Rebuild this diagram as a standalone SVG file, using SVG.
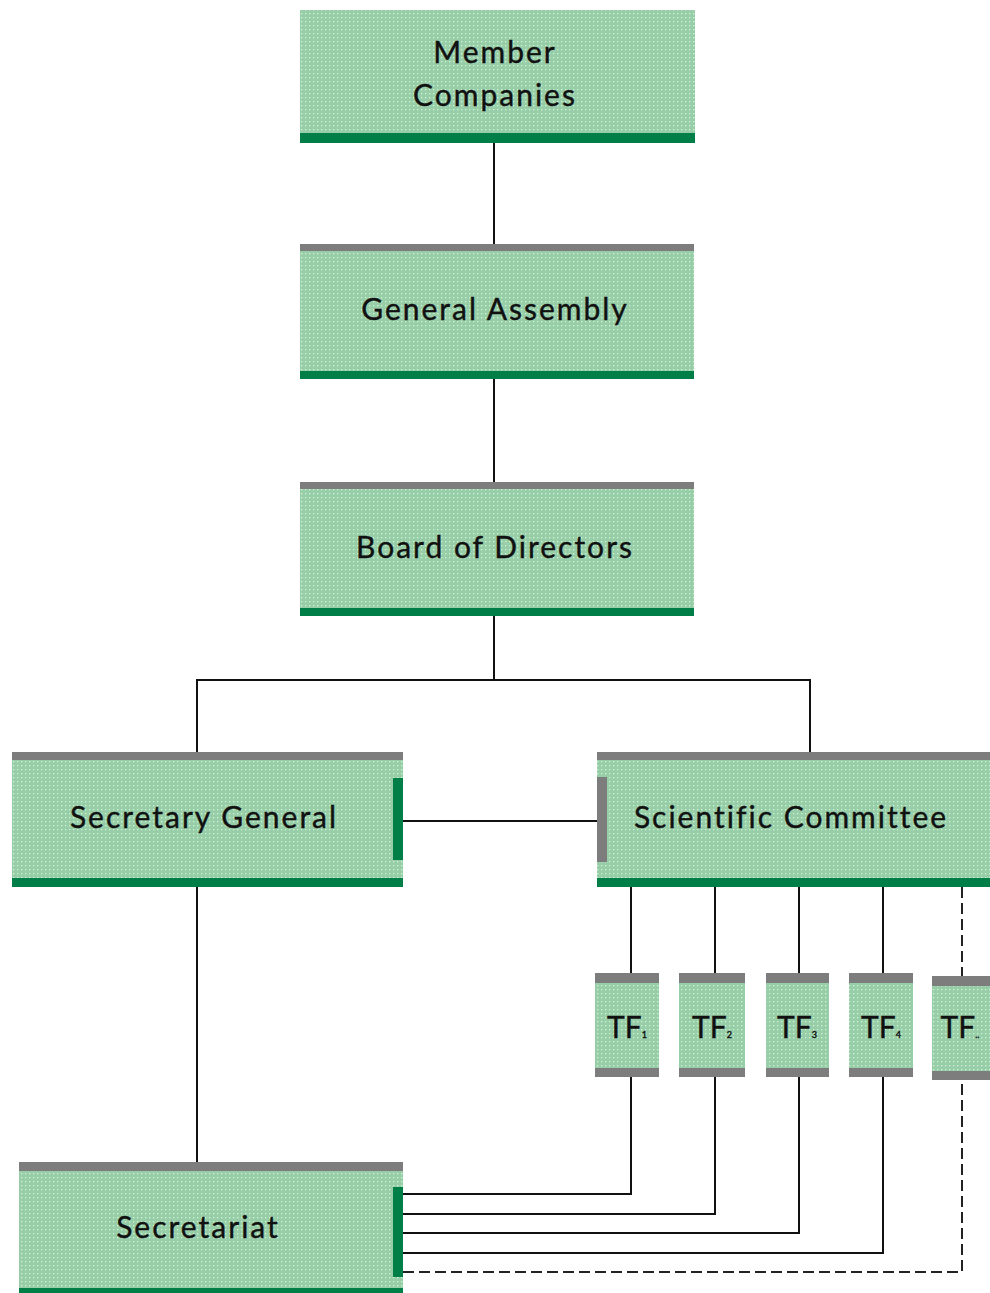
<svg xmlns="http://www.w3.org/2000/svg" width="990" height="1293" viewBox="0 0 990 1293">
<defs>
<pattern id="dots" width="4" height="4" patternUnits="userSpaceOnUse">
<rect width="4" height="4" fill="#98cdaa"/>
<rect x="1" y="1" width="1.3" height="1.3" fill="#cdf7c9"/>
</pattern>
</defs>
<style>
.box{fill:url(#dots)}
.gray{fill:#7d7d7d}
.dg{fill:#007e48}
.lbl{font-family:Lato,"Open Sans","Liberation Sans",sans-serif;font-size:30px;fill:#111;text-anchor:middle;letter-spacing:2px;stroke:#111;stroke-width:0.4px}
.tf{letter-spacing:0}
.sub{font-size:9px}
.ln{stroke:#111;stroke-width:2;fill:none}
.dash{stroke:#222;stroke-width:2;fill:none;stroke-dasharray:11 5}
</style>
<rect width="990" height="1293" fill="#fff"/>
<g id="connectors">
<line class="ln" x1="494" y1="143" x2="494" y2="244"/>
<line class="ln" x1="494" y1="378" x2="494" y2="482"/>
<polyline class="ln" points="494,616 494,680"/>
<polyline class="ln" points="197,752 197,680 810,680 810,752"/>
<line class="ln" x1="403" y1="821" x2="597" y2="821"/>
<line class="ln" x1="197" y1="887" x2="197" y2="1162"/>
<line class="ln" x1="631" y1="887" x2="631" y2="973"/>
<line class="ln" x1="715" y1="887" x2="715" y2="973"/>
<line class="ln" x1="799" y1="887" x2="799" y2="973"/>
<line class="ln" x1="883" y1="887" x2="883" y2="973"/>
<line class="dash" x1="962" y1="887" x2="962" y2="976"/>
<polyline class="ln" points="403,1194 631,1194 631,1077"/>
<polyline class="ln" points="403,1214 715,1214 715,1077"/>
<polyline class="ln" points="403,1233 799,1233 799,1077"/>
<polyline class="ln" points="403,1253 883,1253 883,1077"/>
<polyline class="dash" points="403,1272 962,1272 962,1080"/>
</g>
<g id="member-companies">
<rect class="box" x="300" y="10" width="395" height="133"/>
<rect class="dg" x="300" y="133" width="395" height="10"/>
<text class="lbl" x="495" y="63">Member</text>
<text class="lbl" x="495" y="106">Companies</text>
</g>
<g id="general-assembly">
<rect class="box" x="300" y="244" width="394" height="134"/>
<rect class="gray" x="300" y="244" width="394" height="7"/>
<rect class="dg" x="300" y="371" width="394" height="8"/>
<text class="lbl" x="495" y="320">General Assembly</text>
</g>
<g id="board-of-directors">
<rect class="box" x="300" y="482" width="394" height="134"/>
<rect class="gray" x="300" y="482" width="394" height="7"/>
<rect class="dg" x="300" y="608" width="394" height="8"/>
<text class="lbl" x="495" y="558">Board of Directors</text>
</g>
<g id="secretary-general">
<rect class="box" x="12" y="752" width="391" height="135"/>
<rect class="gray" x="12" y="752" width="391" height="8"/>
<rect class="dg" x="12" y="878" width="391" height="9"/>
<rect class="dg" x="393" y="778" width="10" height="82"/>
<text class="lbl" x="204" y="828">Secretary General</text>
</g>
<g id="scientific-committee">
<rect class="box" x="597" y="752" width="393" height="135"/>
<rect class="gray" x="597" y="752" width="393" height="8"/>
<rect class="dg" x="597" y="878" width="393" height="9"/>
<rect class="gray" x="597" y="777" width="10" height="85"/>
<text class="lbl" x="791" y="828">Scientific Committee</text>
</g>
<g id="tf1">
<rect class="box" x="595" y="973" width="64" height="104"/>
<rect class="gray" x="595" y="973" width="64" height="10"/>
<rect class="gray" x="595" y="1068" width="64" height="9"/>
<text class="lbl tf" x="627" y="1038">TF<tspan class="sub">1</tspan></text>
</g>
<g id="tf2">
<rect class="box" x="679" y="973" width="66" height="104"/>
<rect class="gray" x="679" y="973" width="66" height="10"/>
<rect class="gray" x="679" y="1068" width="66" height="9"/>
<text class="lbl tf" x="712" y="1038">TF<tspan class="sub">2</tspan></text>
</g>
<g id="tf3">
<rect class="box" x="766" y="973" width="63" height="104"/>
<rect class="gray" x="766" y="973" width="63" height="10"/>
<rect class="gray" x="766" y="1068" width="63" height="9"/>
<text class="lbl tf" x="797" y="1038">TF<tspan class="sub">3</tspan></text>
</g>
<g id="tf4">
<rect class="box" x="849" y="973" width="64" height="104"/>
<rect class="gray" x="849" y="973" width="64" height="10"/>
<rect class="gray" x="849" y="1068" width="64" height="9"/>
<text class="lbl tf" x="881" y="1038">TF<tspan class="sub">4</tspan></text>
</g>
<g id="tf5">
<rect class="box" x="932" y="976" width="58" height="104"/>
<rect class="gray" x="932" y="976" width="58" height="10"/>
<rect class="gray" x="932" y="1071" width="58" height="9"/>
<text class="lbl tf" x="960" y="1038">TF<tspan class="sub">..</tspan></text>
</g>
<g id="secretariat">
<rect class="box" x="19" y="1162" width="384" height="131"/>
<rect class="gray" x="19" y="1162" width="384" height="9"/>
<rect class="dg" x="19" y="1288" width="384" height="5"/>
<rect class="dg" x="393" y="1187" width="10" height="90"/>
<text class="lbl" x="198" y="1238">Secretariat</text>
</g>
</svg>
